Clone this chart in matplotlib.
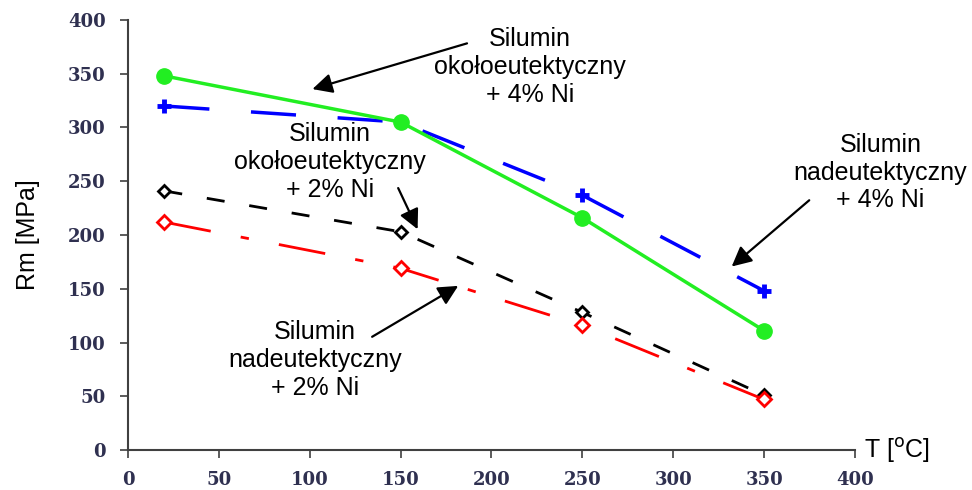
import matplotlib.pyplot as plt

# temperatura [oC]
temp = [20, 150, 250, 350]

# Rm [MPa] dla poszczegolnych stopow
oko_4ni = [348, 305, 216, 111]
nad_4ni = [320, 305, 237, 148]
oko_2ni = [241, 203, 128, 51]
nad_2ni = [212, 169, 116, 47]

yticks = [0, 50, 100, 150, 200, 250, 300, 350, 400]
xticks = [0, 50, 100, 150, 200, 250, 300, 350, 400]

fig = plt.figure(figsize=(9.72, 4.9), dpi=100)
ax = fig.add_axes([0.1317, 0.0816, 0.7479, 0.8776])

ax.plot(temp, nad_4ni, color="#0000ff", lw=2.5, dashes=(13, 12),
        marker="+", markersize=10, mew=3.5)
ax.plot(temp, oko_2ni, color="black", lw=2, dashes=(6.5, 9),
        marker="D", markersize=6, mfc="white", mew=2)
ax.plot(temp, nad_2ni, color="#ff0000", lw=2, dashes=(17, 11, 3, 11),
        marker="D", markersize=7, mfc="white", mew=2)
ax.plot(temp, oko_4ni, color="#22ee22", lw=2.5,
        marker="o", markersize=11)

ax.set_xlim(0, 400)
ax.set_ylim(0, 400)
ax.set_xticks(xticks)
ax.set_yticks(yticks)
for s in ["top", "right"]:
    ax.spines[s].set_visible(False)
for s in ["left", "bottom"]:
    ax.spines[s].set_color("#404040")
    ax.spines[s].set_linewidth(1.5)
ax.tick_params(direction="out", length=6, width=1.2, color="#404040",
               labelsize=13, labelcolor="#2f3050")
for lab in ax.get_xticklabels() + ax.get_yticklabels():
    lab.set_family("DejaVu Serif")
    lab.set_weight("bold")
ax.tick_params(axis="y", pad=10)
ax.tick_params(axis="x", pad=9)

ax.set_ylabel("Rm [MPa]", fontsize=18, family="Liberation Sans", labelpad=20)
ax.text(1.012, 0.0, "T [$^{\\rm o}$C]", transform=ax.transAxes, fontsize=18,
        family="Liberation Sans", va="center", ha="left")

txt = dict(fontsize=18, family="Liberation Sans", ha="center", va="center")
arr = dict(arrowstyle="-|>", color="black", lw=1.6, mutation_scale=30)

ax.text(221, 356, "Silumin\nokołoeutektyczny\n+ 4% Ni", **txt)
ax.annotate("", xy=(100, 335), xytext=(188, 379), arrowprops=arr)

ax.text(111, 268, "Silumin\nokołoeutektyczny\n+ 2% Ni", **txt)
ax.annotate("", xy=(160, 203), xytext=(148, 246), arrowprops=arr)

ax.text(414, 258, "Silumin\nnadeutektyczny\n+ 4% Ni", clip_on=False, **txt)
ax.annotate("", xy=(331, 169), xytext=(376, 234), arrowprops=arr)

ax.text(103, 84, "Silumin\nnadeutektyczny\n+ 2% Ni", **txt)
ax.annotate("", xy=(183, 154), xytext=(133, 104), arrowprops=arr)

fig.savefig("out.png", dpi=100)
